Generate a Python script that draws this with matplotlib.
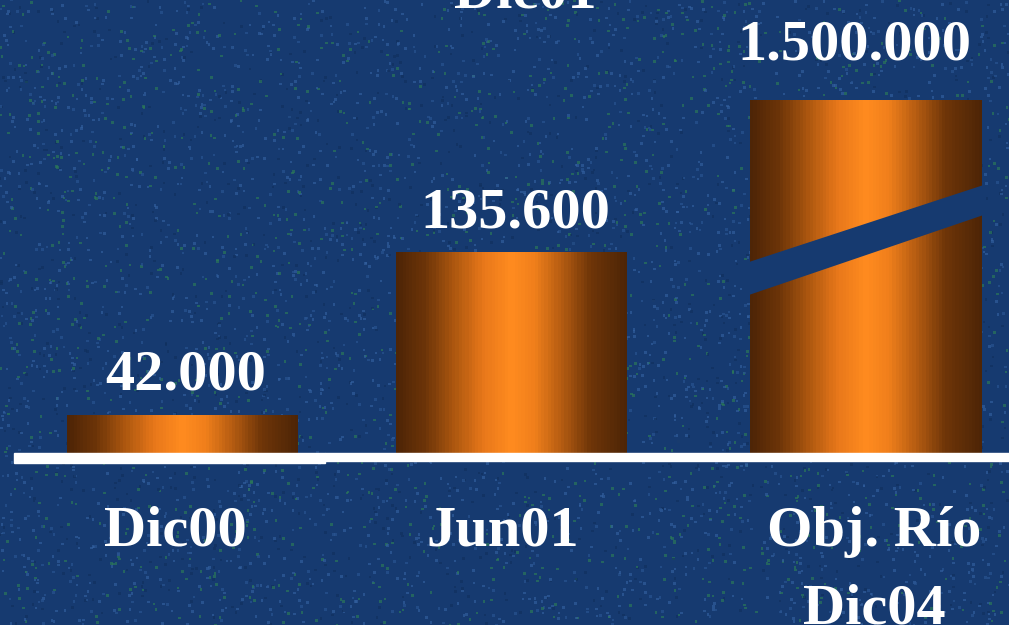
import numpy as np
import matplotlib
matplotlib.use('Agg')
import matplotlib.pyplot as plt
from matplotlib.colors import LinearSegmentedColormap
from matplotlib.patches import Polygon, Rectangle
from matplotlib.transforms import blended_transform_factory

# clients per period
categories = ['Dic00', 'Jun01', 'Obj. Río\nDic04']
values = [42000, 135600, 1500000]
value_labels = ['42.000', '135.600', '1.500.000']
title = 'Dic01'

# layout (pixels on a 1009x625 canvas)
W, H = 1009, 625
bar_left = [67, 396, 750]
bar_width = [231, 231, 232]
label_x = [175, 503, 874]
value_x = [186, 515, 854]
value_pad = [18, 18, 29]  # points between bar top and its label
line_step = 77            # pixels between lines of a category label

BG = '#163a70'
FONT = dict(family='Liberation Serif', weight='bold', color='white', size=42)

# cylinder shading for the bars
shade = LinearSegmentedColormap.from_list('cyl', [
    (0.00, '#4e2506'), (0.12, '#6c3408'), (0.26, '#b25a10'),
    (0.38, '#e9781a'), (0.50, '#ff8b1f'), (0.60, '#f07f1b'),
    (0.72, '#b55c11'), (0.85, '#6e3508'), (1.00, '#4e2506')])


# compressed value axis: power curve up to the middle bar, then squeezed
def fwd(v):
    v = np.asarray(v, dtype=float)
    lo = 202 * (np.clip(v, 0, None) / 135600) ** 1.4
    hi = 202 + (v - 135600) * 152 / 1364400
    return np.where(v <= 135600, lo, hi)


def inv(y):
    y = np.asarray(y, dtype=float)
    lo = 135600 * (np.clip(y, 0, None) / 202) ** (1 / 1.4)
    hi = 135600 + (y - 202) * 1364400 / 152
    return np.where(y <= 202, lo, hi)


fig = plt.figure(figsize=(W / 100, H / 100), dpi=100, facecolor=BG)

# speckled backdrop
bg = fig.add_axes([0, 0, 1, 1], zorder=-1)
bg.set_facecolor(BG)
bg.set_xlim(0, W)
bg.set_ylim(0, H)
bg.axis('off')
rng = np.random.default_rng(3)
n = 6000
bg.scatter(rng.uniform(0, W, n), rng.uniform(0, H, n), s=3.5, marker='s',
           c=rng.choice(['#2d7b58', '#33609f', '#2a5592', '#10305e'], n, p=[0.25, 0.35, 0.2, 0.2]),
           alpha=0.65, linewidths=0)

ax = fig.add_axes([0, 171 / H, 1, 454 / H])
ax.patch.set_alpha(0)
ax.set_yscale('function', functions=(fwd, inv))
ax.set_xlim(0, W)
ax.set_ylim(0, float(inv(454)))
ax.axis('off')

# each bar is a row of thin strips coloured across the cylinder
strips = 70
for left, width, val in zip(bar_left, bar_width, values):
    step = width / strips
    xs = left + step * (np.arange(strips) + 0.5)
    ax.bar(xs, [val] * strips, width=step * 1.05, color=shade(np.linspace(0, 1, strips)),
           linewidth=0, zorder=2)

# axis break across the tallest bar
yt = blended_transform_factory(ax.transData, ax.transAxes)
x0, x1 = bar_left[2] - 3, bar_left[2] + bar_width[2] + 3
gap = Polygon([(x0, 0.4215), (x1, 0.5935), (x1, 0.5275), (x0, 0.3488)],
              closed=True, facecolor=BG, edgecolor='none', transform=yt, zorder=3)
ax.add_patch(gap)

# value labels above the bars
for x, val, txt, pad in zip(value_x, values, value_labels, value_pad):
    ax.annotate(txt, (x, val), xytext=(0, pad), textcoords='offset points',
                ha='center', va='baseline', annotation_clip=False, zorder=4, **FONT)

# white baseline
fig.patches.append(Rectangle((14 / W, (H - 463) / H), 311 / W, 10 / H,
                             transform=fig.transFigure, color='white', zorder=5))
fig.patches.append(Rectangle((325 / W, (H - 461) / H), 684 / W, 8 / H,
                             transform=fig.transFigure, color='white', zorder=5))

# category labels under the baseline, one text per line
xt = blended_transform_factory(ax.transData, fig.transFigure)
for x, cat in zip(label_x, categories):
    for i, line in enumerate(cat.split('\n')):
        ax.text(x, (H - 546 - i * line_step) / H, line, transform=xt,
                ha='center', va='baseline', clip_on=False, **FONT)

fig.text(525 / W, (H - 7) / H, title, ha='center', va='baseline', **FONT)

fig.savefig('out.png', dpi=100, facecolor=BG)
